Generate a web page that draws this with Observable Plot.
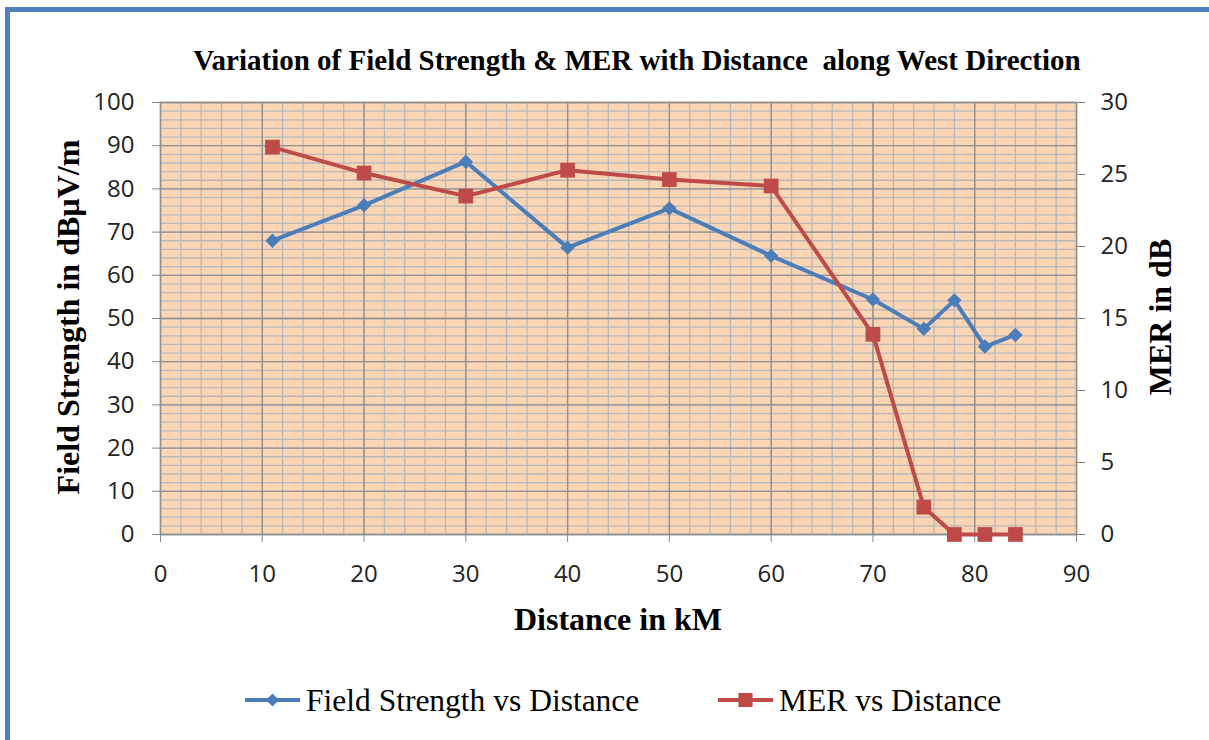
<!DOCTYPE html>
<html>
<head>
<meta charset="utf-8">
<script src="https://cdn.jsdelivr.net/npm/d3@7"></script>
<script src="https://cdn.jsdelivr.net/npm/@observablehq/plot@0.6"></script>
<style>
  html, body { margin: 0; padding: 0; background: #fff; overflow: hidden; }
  #wrap { position: relative; width: 1209px; height: 740px; overflow: hidden; }
  #border { position: absolute; left: 5px; top: 7px; width: 1400px; height: 900px; border: 5px solid #4F81BD; box-sizing: border-box; }
  #chart { position: absolute; left: 0; top: 0; }
  .lbl { position: absolute; font-family: "Liberation Serif", "Times New Roman", serif; color: #000; white-space: nowrap; transform: translate(-50%, -50%); }
  .bold { font-weight: bold; }
  #legend { position: absolute; left: 0; top: 0; }
</style>
</head>
<body>
<div id="wrap">
  <div id="border"></div>
  <div id="chart"></div>
  <div class="lbl bold" id="title" style="left:637px; top:60px; font-size:29px;">Variation of Field Strength &amp; MER with Distance&nbsp; along West Direction</div>
  <div class="lbl bold" id="ylab" style="left:68px; top:317px; font-size:32px; transform: translate(-50%, -50%) rotate(-90deg);">Field Strength in dBµV/m</div>
  <div class="lbl bold" id="y2lab" style="left:1160px; top:317px; font-size:32px; transform: translate(-50%, -50%) rotate(-90deg);">MER in dB</div>
  <div class="lbl bold" id="xlab" style="left:618px; top:619px; font-size:32px;">Distance in kM</div>
  <div id="legend"></div>
</div>
<script>
// Data
const distance      = [11, 20, 30, 40, 50, 60, 70, 75, 78, 81, 84];
const fieldStrength = [68, 76.2, 86.3, 66.4, 75.5, 64.5, 54.4, 47.6, 54.2, 43.5, 46.2];
const mer           = [26.9, 25.1, 23.5, 25.3, 24.65, 24.2, 13.9, 1.9, 0, 0, 0];
const xTicks  = [0, 10, 20, 30, 40, 50, 60, 70, 80, 90];
const yTicks  = [0, 10, 20, 30, 40, 50, 60, 70, 80, 90, 100];
const y2Ticks = [0, 5, 10, 15, 20, 25, 30];
const seriesNames = ["Field Strength vs Distance", "MER vs Distance"];

const blue = "#4A7EBB", red = "#BE4B48";
const y2Max = 30, yMax = 100;
const toLeft = v => v * yMax / y2Max;

const fsData  = distance.map((d, i) => ({ d, v: fieldStrength[i] }));
const merData = distance.map((d, i) => ({ d, v: toLeft(mer[i]) }));

const chart = Plot.plot({
  width: 1209, height: 740,
  marginLeft: 160, marginRight: 133, marginTop: 102, marginBottom: 206,
  x: { domain: [0, 90] },
  y: { domain: [0, 100] },
  style: { background: "transparent", fontFamily: "'Open Sans', sans-serif", fontSize: "24px", color: "#222" },
  marks: [
    Plot.frame({ fill: "#FCD5B5", stroke: null }),
    Plot.gridX(d3.range(0, 91, 2), { stroke: "#b8b8b8", strokeOpacity: 1, strokeWidth: 1.3 }),
    Plot.gridY(d3.range(0, 101, 2), { stroke: "#b8b8b8", strokeOpacity: 1, strokeWidth: 1.3 }),
    Plot.gridX(xTicks, { stroke: "#8f8f8f", strokeOpacity: 1, strokeWidth: 1.3 }),
    Plot.gridY(yTicks, { stroke: "#8f8f8f", strokeOpacity: 1, strokeWidth: 1.3 }),
    Plot.frame({ stroke: "#8f8f8f", strokeWidth: 1.3 }),
    Plot.axisX({ ticks: xTicks, tickSize: 8, tickPadding: 22, label: null, stroke: "#888", fill: "#222", fontSize: 24 }),
    Plot.axisY({ ticks: yTicks, tickSize: 8, tickPadding: 18, label: null, stroke: "#888", fill: "#222", fontSize: 24 }),
    Plot.axisY({ anchor: "right", ticks: y2Ticks.map(toLeft), tickFormat: v => Math.round(v * y2Max / yMax), tickSize: 8, tickPadding: 16, label: null, stroke: "#888", fill: "#222", fontSize: 24 }),
    Plot.line(fsData, { x: "d", y: "v", stroke: blue, strokeWidth: 4 }),
    Plot.line(merData, { x: "d", y: "v", stroke: red, strokeWidth: 4 }),
    Plot.dot(fsData, { x: "d", y: "v", symbol: "diamond2", r: 6.5, fill: blue, stroke: null }),
    Plot.dot(merData, { x: "d", y: "v", symbol: "square", r: 8.3, fill: red, stroke: null })
  ]
});
document.getElementById("chart").appendChild(chart);

// Legend
const leg = d3.select("#legend").append("svg").attr("width", 1209).attr("height", 740);
const legItems = [
  { name: seriesNames[0], color: blue, x0: 245, sym: d3.symbolDiamond2, size: 110 },
  { name: seriesNames[1], color: red,  x0: 718, sym: d3.symbolSquare,  size: 200 }
];
legItems.forEach(it => {
  const g = leg.append("g");
  g.append("line").attr("x1", it.x0).attr("x2", it.x0 + 55).attr("y1", 700).attr("y2", 700).attr("stroke", it.color).attr("stroke-width", 4);
  g.append("path").attr("d", d3.symbol(it.sym, it.size)()).attr("transform", `translate(${it.x0 + 27.5},700)`).attr("fill", it.color);
  g.append("text").attr("x", it.x0 + 61).attr("y", 700).attr("dy", "0.35em")
    .attr("font-family", "'Liberation Serif', 'Times New Roman', serif").attr("font-size", 31.5).attr("fill", "#000")
    .text(it.name);
});
</script>
</body>
</html>
